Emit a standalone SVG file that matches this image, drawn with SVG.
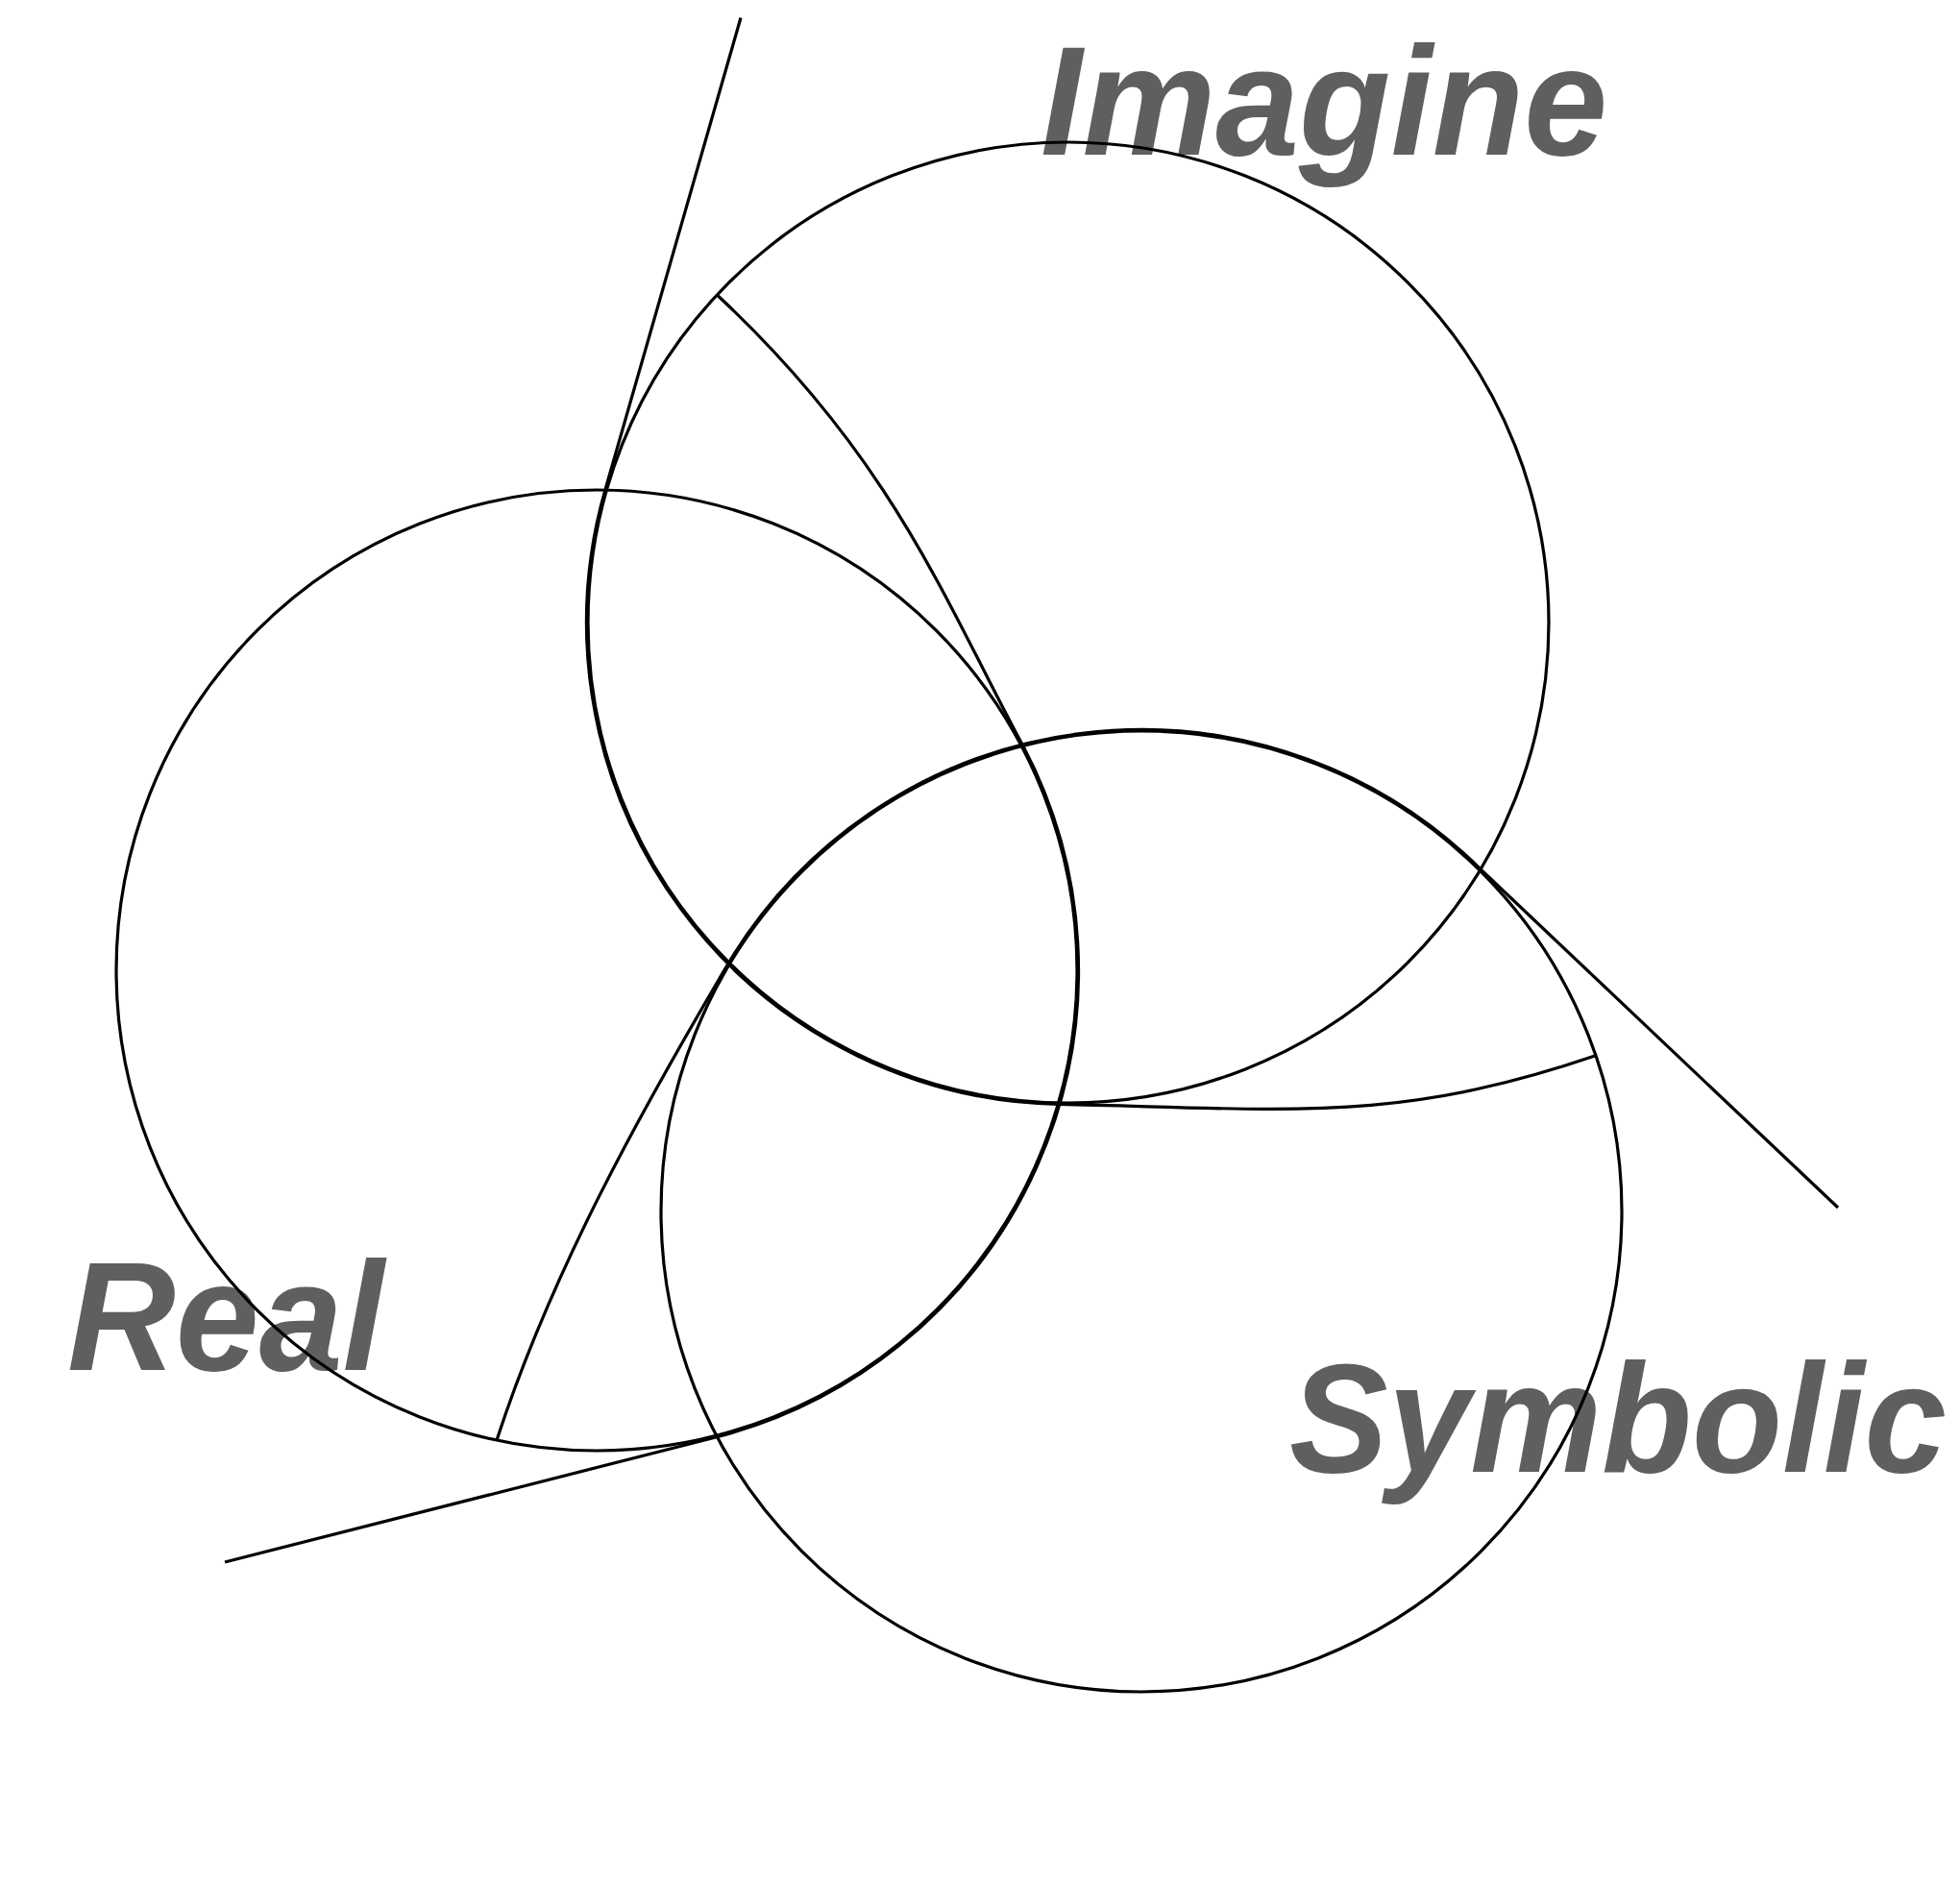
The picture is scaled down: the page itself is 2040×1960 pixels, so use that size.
<svg xmlns="http://www.w3.org/2000/svg" width="2040" height="1960" viewBox="0 0 2040 1960">
<style>
.label{font-family:"Liberation Sans",Arial,Helvetica,sans-serif;font-weight:bold;font-style:italic;font-size:161px;fill:#5f5f5f}
.ring{fill:none;stroke:#000;stroke-width:3.2}
.cord{fill:none;stroke:#000;stroke-width:3.2;stroke-linejoin:round}
</style>
<rect width="2040" height="1960" fill="#fff"/>
<g id="imagine">
<text class="label" x="1083" y="161" textLength="590" lengthAdjust="spacingAndGlyphs">Imagine</text>
<circle class="ring" cx="1112" cy="648" r="500"/>
</g>
<g id="real">
<text class="label" x="70" y="1426" textLength="330" lengthAdjust="spacingAndGlyphs">Real</text>
<circle class="ring" cx="621" cy="1010" r="500"/>
</g>
<g id="symbolic">
<text class="label" x="1342" y="1532" textLength="684" lengthAdjust="spacingAndGlyphs">Symbolic</text>
<circle class="ring" cx="1188" cy="1261" r="500"/>
</g>
<g id="connectors">
<path class="cord" d="M746.3 307 C929.2 477.5 984 626.4 1064.6 776.1 A501.5 501.5 0 0 1 746.1 1495.7 L234 1626"/>
<path class="cord" d="M517 1499.1 C574 1324.1 664.8 1160.5 758.5 1002.1 A501.5 501.5 0 0 1 1541.2 905 L1913 1257"/>
<path class="cord" d="M1660 1099 C1451.7 1169.9 1341.6 1154.4 1101.6 1149.4 A501.5 501.5 0 0 1 629.95 509.7 L771 18.5"/>
</g>
</svg>
